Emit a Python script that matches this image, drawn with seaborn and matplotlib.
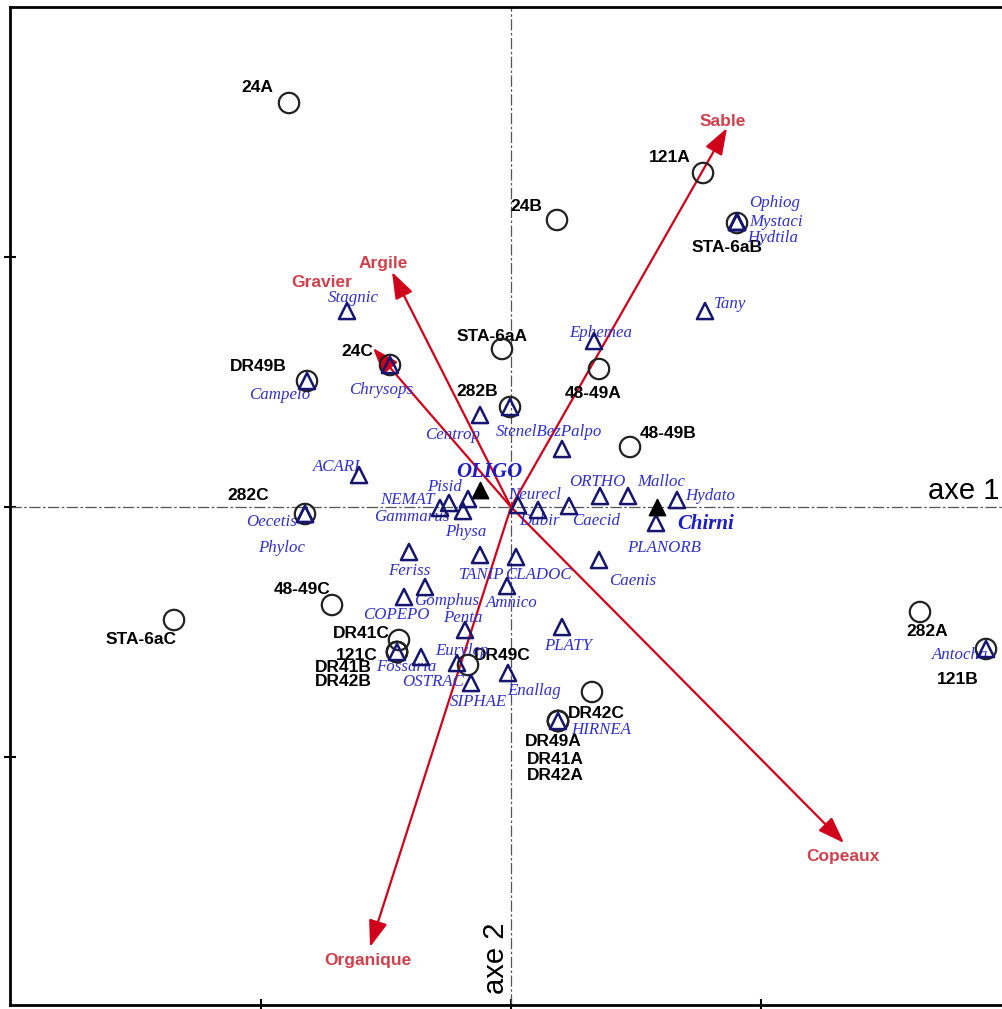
import matplotlib
matplotlib.use("Agg")
import matplotlib.pyplot as plt
import pandas as pd
import seaborn as sns

# ---------------- data (CCA axis 1 / axis 2 scores) ----------------
site_names = ["24A", "24B", "121A", "STA-6aB", "STA-6aA", "24C", "DR49B", "282B",
              "48-49A", "48-49B", "282C", "48-49C", "STA-6aC", "DR41C", "121C",
              "DR41B", "DR42B", "DR49C", "DR42C", "DR49A", "DR41A", "DR42A",
              "282A", "121B"]
site_x = [-0.888, 0.184, 0.768, 0.904, -0.036, -0.484, -0.816, -0.004,
          0.352, 0.476, -0.824, -0.716, -1.348, -0.448, -0.456,
          -0.456, -0.456, -0.172, 0.324, 0.188, 0.188, 0.188,
          1.636, 1.900]
site_y = [1.616, 1.148, 1.336, 1.136, 0.632, 0.568, 0.504, 0.400,
          0.552, 0.240, -0.028, -0.392, -0.452, -0.532, -0.580,
          -0.580, -0.580, -0.632, -0.740, -0.856, -0.856, -0.856,
          -0.420, -0.568]

species_names = ["Ophiog", "Mystaci", "Hydtila", "Tany", "Ephemea", "Stagnic",
                 "Chrysops", "Campelo", "Centrop", "StenelBezPalpo", "", "ACARI",
                 "Pisid", "NEMAT", "Gammarus", "Physa", "Neurecl", "Dubir",
                 "Caecid", "ORTHO", "Malloc", "Hydato", "PLANORB", "Oecetis",
                 "Phyloc", "Feriss", "TANIP", "CLADOC", "Caenis", "Gomphus",
                 "COPEPO", "Amnico", "Penta", "PLATY", "Fossaria", "OSTRAC",
                 "Eurylep", "SIPHAE", "Enallag", "HIRNEA", "Antocha"]
species_x = [0.904, 0.904, 0.904, 0.776, 0.332, -0.656,
             -0.484, -0.816, -0.124, -0.004, 0.204, -0.608,
             -0.172, -0.248, -0.284, -0.192, 0.028, 0.108,
             0.232, 0.356, 0.468, 0.664, 0.580, -0.824,
             -0.824, -0.408, -0.124, 0.020, 0.352, -0.344,
             -0.428, -0.016, -0.184, 0.204, -0.456, -0.360,
             -0.216, -0.160, -0.012, 0.188, 1.900]
species_y = [1.140, 1.140, 1.140, 0.784, 0.664, 0.784,
             0.568, 0.504, 0.368, 0.400, 0.232, 0.128,
             0.032, 0.016, -0.004, -0.016, 0.008, -0.012,
             0.004, 0.044, 0.044, 0.028, -0.064, -0.028,
             -0.028, -0.180, -0.192, -0.200, -0.212, -0.320,
             -0.360, -0.316, -0.492, -0.480, -0.580, -0.600,
             -0.624, -0.704, -0.664, -0.856, -0.568]

key_species = ["OLIGO", "Chirni"]
key_x = [-0.124, 0.584]
key_y = [0.068, 0.000]

env_names = ["Sable", "Argile", "Gravier", "Copeaux", "Organique"]
env_x = [0.864, -0.476, -0.552, 1.332, -0.564]
env_y = [1.516, 0.940, 0.636, -1.344, -1.760]

# ---------------- label offsets (pixels) ----------------
site_dx = [-32, -31, -33, -10, -10, -33, -49, -33, -6, 38, -57, -30, -33, -38, -40,
           -54, -54, 34, 4, -5, -3, -3, 7, -28]
site_dy = [15, 14, 16, -24, 13, 14, 15, 15, -24, 14, 19, 15, -20, 7, -3,
           -16, -29, 9, -21, -21, -38, -54, -20, -30]
species_dx = [38, 39, 36, 25, 7, 6, -9, -27, -27, 39, 0, -22, -23, -42, -28, 3, 17, 2,
              27, -3, 33, 33, 8, -33, -23, 0, 2, 22, 34, 22, -8, 5, -2, 6, 9, 12,
              5, 7, 26, 43, -26]
species_dy = [19, 0, -16, 7, 8, 13, -25, -14, -20, -25, 0, 8, 12, 3, -9, -21, 10, -11,
              -15, 14, 14, 4, -25, -8, -34, -19, -20, -18, -21, -14, -18, -17, 12,
              -19, -15, -25, 12, -19, -18, -9, -6]
key_dx = [9, 49]
key_dy = [18, -17]
env_dx = [-4, -9, -51, -1, -2]
env_dy = [7, 9, 66, -13, -13]

# ---------------- figure ----------------
sns.set_style("white")
plt.rcParams["font.family"] = ["Liberation Sans", "DejaVu Sans"]

W, H = 1003, 1009
fig = plt.figure(figsize=(W / 100, H / 100), dpi=100)
ax = fig.add_axes([10 / W, 4 / H, (W - 10) / W, (1005 - 7) / H])
ax.set_xlim(-2.004, 1.968)
ax.set_ylim(-1.992, 2.0)

# axes cross
ax.axhline(0, color="#555555", lw=0.9, ls=(0, (9, 2, 2, 2)), zorder=1)
ax.axvline(0, color="#555555", lw=0.9, ls=(0, (9, 2, 2, 2)), zorder=1)

# environmental arrows
arrow_col = "#d0021b"
for nm, x, y, dx, dy in zip(env_names, env_x, env_y, env_dx, env_dy):
    ax.annotate("", xy=(x, y), xytext=(0, 0),
                arrowprops=dict(arrowstyle="-|>,head_length=0.9,head_width=0.32",
                                color=arrow_col, lw=1.6, shrinkA=0, shrinkB=0,
                                mutation_scale=18),
                zorder=3)
    ax.annotate(nm, xy=(x, y), xytext=(dx, dy), textcoords="offset pixels",
                ha="center", va="center", fontsize=12.5, fontweight="bold",
                color="#d0404c", zorder=6)

sites = pd.DataFrame({"x": site_x, "y": site_y, "name": site_names})
spp = pd.DataFrame({"x": species_x, "y": species_y, "name": species_names})
keys = pd.DataFrame({"x": key_x, "y": key_y, "name": key_species})

# labels first (markers drawn on top)
for nm, x, y, dx, dy in zip(site_names, site_x, site_y, site_dx, site_dy):
    ax.annotate(nm, xy=(x, y), xytext=(dx, dy), textcoords="offset pixels",
                ha="center", va="center", fontsize=12.5, fontweight="bold",
                color="black", zorder=4)
for nm, x, y, dx, dy in zip(species_names, species_x, species_y, species_dx, species_dy):
    if nm:
        ax.annotate(nm, xy=(x, y), xytext=(dx, dy), textcoords="offset pixels",
                    ha="center", va="center", fontsize=12.2, fontstyle="italic",
                    family=["Liberation Serif", "DejaVu Serif"],
                    color="#3030cc", zorder=4)
for nm, x, y, dx, dy in zip(key_species, key_x, key_y, key_dx, key_dy):
    ax.annotate(nm, xy=(x, y), xytext=(dx, dy), textcoords="offset pixels",
                ha="center", va="center", fontsize=15, fontstyle="italic",
                fontweight="bold", family=["Liberation Serif", "DejaVu Serif"],
                color="#1c1cc8", zorder=4)

sns.scatterplot(data=sites, x="x", y="y", marker="o", s=215,
                facecolor="none", edgecolor="#222222", linewidth=1.6,
                ax=ax, zorder=5, legend=False)
sns.scatterplot(data=spp, x="x", y="y", marker="^", s=135,
                facecolor="none", edgecolor="#16166e", linewidth=1.8,
                ax=ax, zorder=6, legend=False)
sns.scatterplot(data=keys, x="x", y="y", marker="^", s=140,
                color="black", edgecolor="black", linewidth=1,
                ax=ax, zorder=6, legend=False)

# axis titles inside plot
ax.text(1.955, 0.01, "axe 1", ha="right", va="bottom", fontsize=21, color="black")
ax.text(-0.003, -1.95, "axe 2", ha="right", va="bottom", rotation=90,
        fontsize=21, color="black")

ax.set_xlabel("")
ax.set_ylabel("")
ax.set_xticks([-1, 0, 1])
ax.set_yticks([-1, 0, 1])
ax.set_xticklabels([])
ax.set_yticklabels([])
ax.tick_params(direction="inout", length=8, width=1.5, colors="black",
               bottom=True, left=True, top=False, right=False)
for side in ["top", "left", "bottom"]:
    ax.spines[side].set_color("black")
    ax.spines[side].set_linewidth(2)
ax.spines["right"].set_visible(False)

fig.savefig("out.png", dpi=100)
